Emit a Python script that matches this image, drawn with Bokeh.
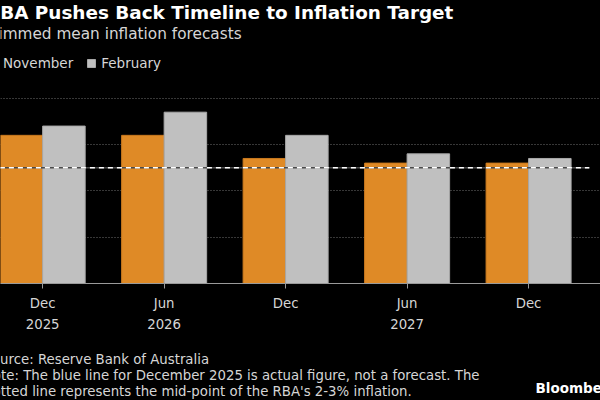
import numpy as np
from bokeh.plotting import figure
from bokeh.layouts import column
from bokeh.models import Range1d, Label, Legend, LegendItem, FixedTicker
from bokeh.embed import file_html
from bokeh.resources import INLINE

# Trimmed mean inflation forecasts (% y/y), RBA Statement on Monetary Policy
periods = ["Dec\n2025", "Jun\n2026", "Dec", "Jun\n2027", "Dec"]
november = [3.2, 3.2, 2.7, 2.6, 2.6]
february = [3.4, 3.7, 3.2, 2.8, 2.7]
target_mid = 2.5
grid_levels = [1, 2, 3, 4]

ORANGE = "#DF8A26"
GREY = "#C0C0C0"
TEXT = "#D6D6D6"
BG = "black"

x = np.arange(len(periods)) + 0.5
bar_w = 0.35

# main chart: the plot frame runs from the top of the page down to the zero line,
# so the headline and legend sit inside it
p = figure(
    width=600, height=348, output_backend="svg", toolbar_location=None,
    x_range=Range1d(0.153, 5.092), y_range=Range1d(0, 6.112),
    y_axis_location=None,
    min_border_left=0, min_border_right=0, min_border_top=0, min_border_bottom=65,
    background_fill_color=BG, border_fill_color=BG, outline_line_color=None,
)

# dotted horizontal gridlines
p.xgrid.visible = False
p.ygrid.ticker = FixedTicker(ticks=grid_levels)
p.ygrid.grid_line_color = "#6E6E6E"
p.ygrid.grid_line_dash = "1 2"
p.ygrid.grid_line_width = 1

# bottom axis with two-line period labels
ax = p.xaxis[0]
ax.ticker = FixedTicker(ticks=list(x))
ax.major_label_overrides = {float(v): lab for v, lab in zip(x, periods)}
ax.axis_line_color = "#9A9A9A"
ax.major_tick_line_color = "#9A9A9A"
ax.major_tick_out = 5
ax.major_tick_in = 0
ax.minor_tick_line_color = None
ax.major_label_text_color = TEXT
ax.major_label_text_font = "DejaVu Sans"
ax.major_label_text_font_size = "13.3px"
ax.major_label_text_line_height = 1.45
ax.major_label_standoff = 7

r_nov = p.vbar(x=x - bar_w / 2, top=november, width=bar_w,
               fill_color=ORANGE, line_color="#C9791E", line_width=1)
r_feb = p.vbar(x=x + bar_w / 2, top=february, width=bar_w,
               fill_color=GREY, line_color="#A8A8A8", line_width=1)

# mid-point of the 2-3% target band
span = [0, len(periods)]
p.line(x=span, y=[target_mid] * 2, line_color="#4A4A4A", line_width=1.6)
p.line(x=span, y=[target_mid] * 2, line_color="white", line_width=1.6, line_dash="5 4")

legend = Legend(
    items=[LegendItem(label="November", renderers=[r_nov]),
           LegendItem(label="February", renderers=[r_feb])],
    orientation="horizontal", location=(-12, 212),
    glyph_width=10, glyph_height=10, label_standoff=5, spacing=13,
    padding=0, margin=0, background_fill_alpha=0, border_line_color=None,
    label_text_color=TEXT, label_text_font="DejaVu Sans", label_text_font_size="13.5px",
)
p.add_layout(legend)


def text(fig, s, x0, y0, size, font="DejaVu Sans", color=TEXT, style="normal"):
    fig.add_layout(Label(x=x0, y=y0, x_units="screen", y_units="screen", text=s,
                         text_font=font, text_font_size=size, text_color=color,
                         text_font_style=style, text_baseline="alphabetic"))


text(p, "RBA Pushes Back Timeline to Inflation Target", -14.5, 271.5, "18.4px",
     color="white", style="bold")
text(p, "Trimmed mean inflation forecasts", -15.5, 249.5, "15.3px")

# footer strip with source and notes
f = figure(
    width=600, height=52, output_backend="svg", toolbar_location=None,
    x_range=Range1d(0, 600), y_range=Range1d(0, 52),
    x_axis_location=None, y_axis_location=None,
    min_border=0, background_fill_color=BG, border_fill_color=BG, outline_line_color=None,
)
f.grid.visible = False
FOOT = "13.3px"
text(f, "Source: Reserve Bank of Australia", -17, 41.5, FOOT)
text(f, "Note: The blue line for December 2025 is actual figure, not a forecast. The",
     -17.5, 25, FOOT)
text(f, "Dotted line represents the mid-point of the RBA's 2-3% inflation.",
     -18, 8.7, FOOT)
text(f, "Bloomberg", 535, 12.5, "13.5px", color="white", style="bold")

page = column(p, f, spacing=0, styles={"background-color": BG})
open("out.html", "w").write(file_html(page, INLINE))
